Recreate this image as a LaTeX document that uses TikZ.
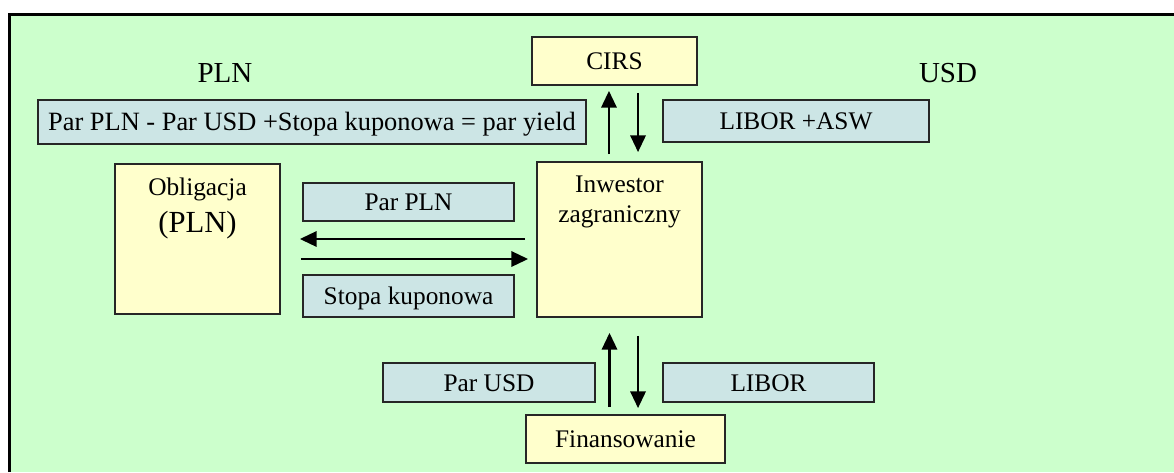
\documentclass[tikz,border=0pt]{standalone}
\usepackage{fontspec}
\setmainfont{Liberation Serif}
\usetikzlibrary{arrows.meta,positioning}
\definecolor{bggreen}{HTML}{CCFFCC}
\definecolor{boxyellow}{HTML}{FFFFCC}
\definecolor{boxblue}{HTML}{CCE5E5}
\tikzset{
  bodyfont/.style={font=\fontsize{19}{23}\selectfont},
  yelbox/.style={draw=black!85,line width=1.4pt,fill=boxyellow,inner sep=0pt,
    text height=13pt,text depth=0pt,bodyfont},
  bluebox/.style={draw=black!85,line width=1.4pt,fill=boxblue,inner sep=0pt,
    text height=13pt,text depth=0pt,bodyfont},
  flow/.style={line width=1.6pt,-{Triangle[length=12.5pt,width=11.5pt]}},
  currency/.style={font=\fontsize{21.75}{26}\selectfont}
}
\begin{document}
\begin{tikzpicture}[x=0.75pt,y=-0.75pt]
  \useasboundingbox (0,0) rectangle (1174,472);
  % background panel
  \fill[bggreen] (9.5,14.5) rectangle (1174,472);
  \draw[line width=2.25pt] (9.5,472) -- (9.5,14.5) -- (1174,14.5);

  \node[currency] (pln) at (225,73) {PLN};
  \node[currency] (usd) at (948,73) {USD};

  % boxes
  \node[yelbox,minimum width=123.75pt,minimum height=36pt] (cirs) at (614.5,61) {CIRS};
  \node[bluebox,minimum width=411pt,minimum height=33pt,font=\fontsize{19.8}{23}\selectfont]
    (frm) at (312,122) {Par PLN - Par USD +Stopa kuponowa = par yield};
  \node[bluebox,minimum width=199.5pt,minimum height=31.5pt] (asw) at (796,121) {LIBOR +ASW};
  \node[yelbox,minimum width=123.75pt,minimum height=112.5pt] (obl) at (197.5,239) {};
  \node[yelbox,minimum width=123.75pt,minimum height=116.25pt] (inw) at (619.5,239.5) {};
  \node[bluebox,minimum width=158.25pt,minimum height=28.5pt] (ppln) at (408.5,202) {Par PLN};
  \node[bluebox,minimum width=158.25pt,minimum height=31.5pt] (stk) at (408.5,296) {Stopa kuponowa};
  \node[bluebox,minimum width=159pt,minimum height=29.25pt] (pusd) at (489,382.5) {Par USD};
  \node[bluebox,minimum width=158.25pt,minimum height=29.25pt] (lib) at (768.5,382.5) {LIBOR};
  \node[yelbox,minimum width=149.25pt,minimum height=36pt] (fin) at (625.5,439) {Finansowanie};

  % texts inside the big boxes
  \node[bodyfont,anchor=base] (obl1) at ([yshift=-24pt]obl.north) {Obligacja};
  \node[font=\fontsize{23}{27}\selectfont,anchor=base] (obl2) at ([yshift=-51.75pt]obl.north) {(PLN)};
  \node[bodyfont,anchor=base] (inw1) at ([yshift=-23.25pt]inw.north) {Inwestor};
  \node[bodyfont,anchor=base] (inw2) at ([yshift=-45.75pt]inw.north) {zagraniczny};

  % flows
  \draw[flow,shorten <=5.25pt,shorten >=3.75pt]
    ([xshift=-7.9pt]inw.north) -- ([xshift=-7.9pt]inw.north |- cirs.south);
  \draw[flow,shorten <=5.25pt,shorten >=6.75pt]
    ([xshift=13.9pt]inw.north |- cirs.south) -- ([xshift=13.9pt]inw.north);
  \draw[flow,shorten <=8.25pt,shorten >=14.25pt] (obl.east -| inw.west) -- (obl.east);
  \draw[flow,shorten <=15pt,shorten >=6pt]
    ([yshift=-15pt]obl.east) -- ([yshift=-15pt]obl.east -| inw.west);
  \draw[flow,shorten <=5.25pt,shorten >=11.25pt]
    ([xshift=-7.5pt]inw.south |- fin.north) -- ([xshift=-7.5pt]inw.south);
  \draw[flow,shorten <=13.5pt,shorten >=4.5pt]
    ([xshift=13.9pt]inw.south) -- ([xshift=13.9pt]inw.south |- fin.north);
\end{tikzpicture}
\end{document}
